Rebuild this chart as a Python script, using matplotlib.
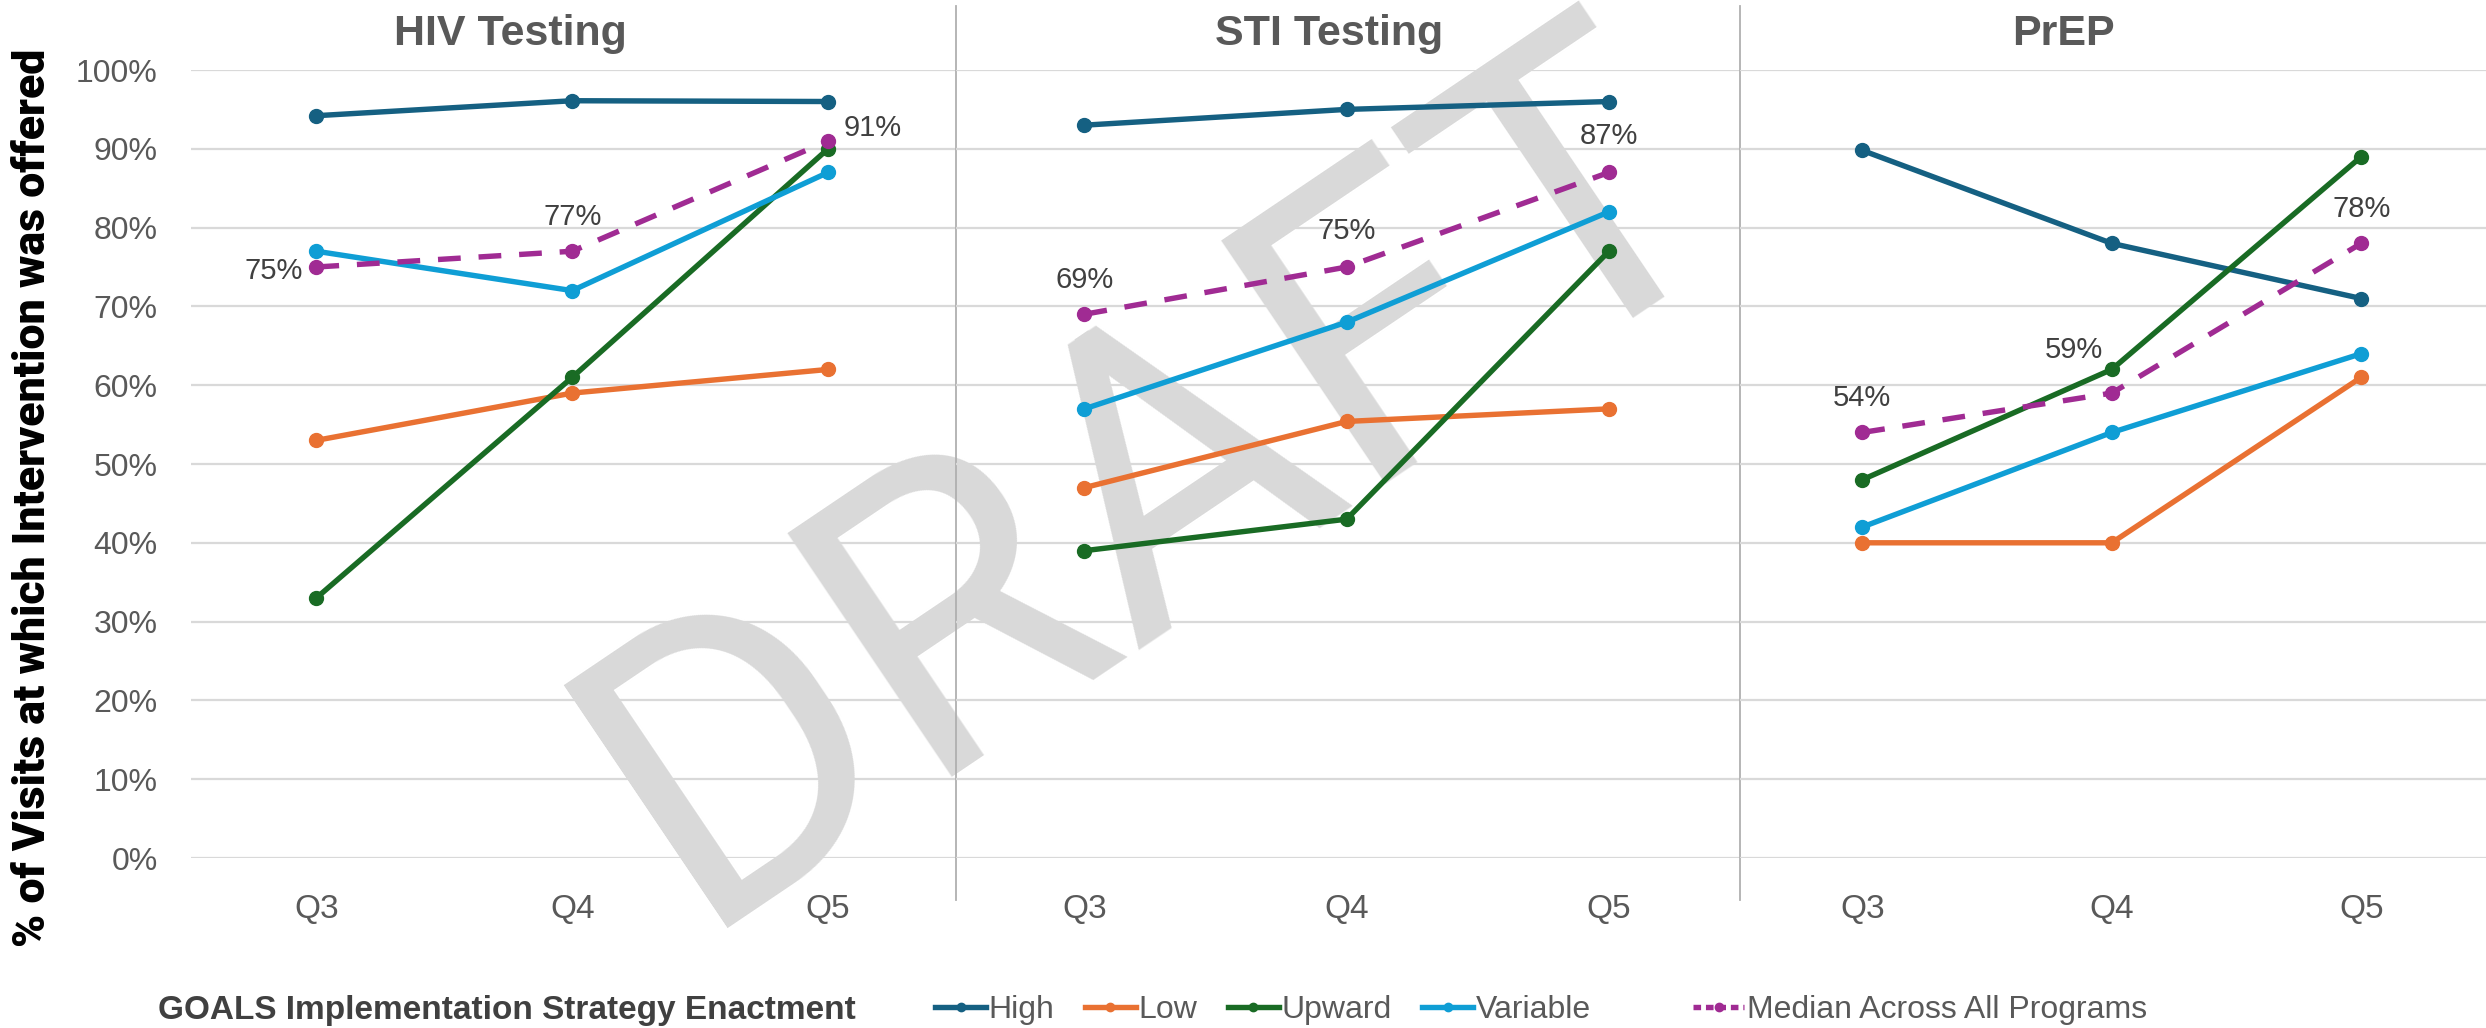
import matplotlib
matplotlib.use("Agg")
import matplotlib.pyplot as plt
from matplotlib.lines import Line2D

QUARTERS = ["Q3", "Q4", "Q5"]
PANELS = ["HIV Testing", "STI Testing", "PrEP"]

# one row per panel: HIV, STI, PrEP
HIGH = [[94.2, 96.1, 96.0], [93.0, 95.0, 96.0], [89.8, 78.0, 71.0]]
LOW = [[53.0, 59.0, 62.0], [47.0, 55.4, 57.0], [40.0, 40.0, 61.0]]
UPWARD = [[33.0, 61.0, 90.0], [39.0, 43.0, 77.0], [48.0, 62.0, 89.0]]
VARIABLE = [[77.0, 72.0, 87.0], [57.0, 68.0, 82.0], [42.0, 54.0, 64.0]]
MEDIAN = [[75.0, 77.0, 91.0], [69.0, 75.0, 87.0], [54.0, 59.0, 78.0]]

SERIES_NAMES = ["High", "Low", "Upward", "Variable"]
COLORS = ["#156082", "#E97132", "#196B24", "#0F9ED5"]
PURPLE = "#A02B93"
GRID = "#d9d9d9"
TICK = "#595959"
LABEL = "#404040"

FONT = ["Liberation Sans", "DejaVu Sans"]
plt.rcParams["font.family"] = FONT

W, H = 2486, 1028
fig = plt.figure(figsize=(W / 100, H / 100), dpi=100)
fig.patch.set_facecolor("white")

# panel boxes in pixels (left, right); plot area y from 70 to 858
boxes = [(191, 956), (956, 1740), (1740, 2486)]
top_px, bot_px = 70, 858
title_x = [0.417, 0.476, 0.434]
# offsets (points) of median labels relative to their point
label_off = [
    [(-31, -3), (0, 25), (32, 9)],
    [(0, 25), (0, 26), (0, 26)],
    [(0, 25), (-27, 31), (0, 25)],
]

LW, MS = 3.9, 10

axes = []
for i, (l, r) in enumerate(boxes):
    ax = fig.add_axes([l / W, 1 - bot_px / H, (r - l) / W, (bot_px - top_px) / H])
    ax.set_facecolor("none")
    axes.append(ax)
    x = range(len(QUARTERS))
    for vals, c in zip([HIGH[i], LOW[i], UPWARD[i], VARIABLE[i]], COLORS):
        ax.plot(x, vals, color=c, lw=LW, marker="o", ms=MS,
                solid_capstyle="round", clip_on=False, zorder=3)
    ax.plot(x, MEDIAN[i], color=PURPLE, lw=LW, ls=(0, (4.2, 3.3)),
            marker="o", ms=MS, clip_on=False, zorder=4)
    for j, v in enumerate(MEDIAN[i]):
        ax.annotate(f"{v:.0f}%", (j, v), xytext=label_off[i][j],
                    textcoords="offset points", ha="center", va="center",
                    fontsize=21, color=LABEL)

    ax.set_xlim(-0.49, 2.5)
    ax.set_ylim(0, 100)
    ax.set_yticks(range(0, 101, 10))
    ax.set_xticks(list(x))
    ax.set_xticklabels(QUARTERS)
    ax.yaxis.grid(True, color=GRID, lw=1.6)
    ax.set_axisbelow(True)
    for s in ax.spines.values():
        s.set_visible(False)
    ax.tick_params(axis="x", length=0, pad=26, labelsize=24, labelcolor=TICK)
    ax.tick_params(axis="y", length=0, pad=24, labelsize=23, labelcolor=TICK)
    if i == 0:
        ax.set_yticklabels([f"{t}%" for t in range(0, 101, 10)])
    else:
        ax.set_yticklabels([])
    ax.set_title(PANELS[i], x=title_x[i], pad=18, fontsize=31,
                 fontweight="bold", color=TICK)
    if i < 2:
        ax.add_line(Line2D([1, 1], [-0.053, 1.081], transform=ax.transAxes,
                           color="#b0b0b0", lw=1.3, clip_on=False))

# y axis title, sized to span about 900 px like the original
ylab = fig.text(33 / W, 1 - 498 / H, "% of Visits at which Intervention was offered",
                rotation=90, ha="center", va="center", fontsize=25,
                fontweight="black", color="black",
                family=["Roboto", "DejaVu Sans"])
renderer = fig.canvas.get_renderer()
span = ylab.get_window_extent(renderer).height
ylab.set_fontsize(25 * 900 / span)

# watermark behind the panels
fig.text(694 / W, 1 - 928 / H, "DRAFT", rotation=34, rotation_mode="anchor",
         ha="left", va="baseline", fontsize=297, color="#d9d9d9",
         family=["Roboto", "DejaVu Sans"], zorder=-1)

# legend
fig.text(158 / W, 1 - 1010 / H, "GOALS Implementation Strategy Enactment",
         ha="left", va="center", fontsize=24, fontweight="bold", color=LABEL)
handles = [Line2D([], [], color=c, lw=LW, marker="o", ms=6) for c in COLORS]
fig.legend(handles, SERIES_NAMES, loc="center left",
           bbox_to_anchor=(935 / W, 1 - 1010 / H), ncol=4, frameon=False,
           fontsize=23, labelcolor=TICK, handlelength=1.6, handletextpad=0.08,
           columnspacing=0.95, borderpad=0, borderaxespad=0)
med = Line2D([], [], color=PURPLE, lw=LW, ls=(0, (1.4, 0.9)), marker="o", ms=6)
fig.legend([med], ["Median Across All Programs"], loc="center left",
           bbox_to_anchor=(1693 / W, 1 - 1010 / H), frameon=False,
           fontsize=23, labelcolor=TICK, handlelength=1.6, handletextpad=0.08,
           borderpad=0, borderaxespad=0)

fig.savefig("out.png", dpi=100)
